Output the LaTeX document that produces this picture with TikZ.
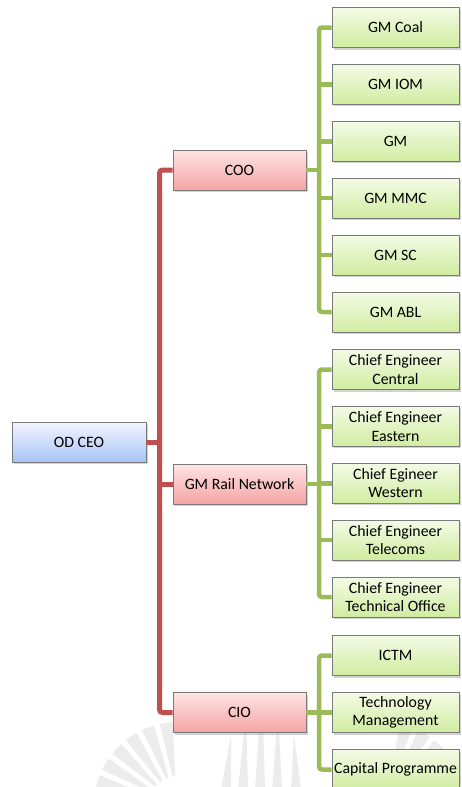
\documentclass[tikz,border=0pt]{standalone}
\usepackage{fontspec}
\setmainfont{Carlito}
\usetikzlibrary{shadows}

\definecolor{redline}{HTML}{C0504D}
\definecolor{greenline}{HTML}{9BBB59}
\definecolor{boxedge}{HTML}{7A7A7A}
\definecolor{markgray}{HTML}{ECECEC}

\tikzset{
  orgbox/.style={draw=boxedge, line width=0.8pt, inner sep=0pt, align=center,
    font=\fontsize{15.8}{18.5}\selectfont,
    drop shadow={shadow xshift=1.5pt, shadow yshift=-2pt, opacity=0.3, fill=black!60}},
  bluebox/.style={orgbox, minimum width=134pt, minimum height=40pt,
    top color=blue!4!white, bottom color={rgb,255:red,166;green,196;blue,245}},
  redbox/.style={orgbox, minimum width=133pt, minimum height=40pt,
    top color={rgb,255:red,253;green,228;blue,228}, bottom color={rgb,255:red,245;green,164;blue,164}},
  greenbox/.style={orgbox, minimum width=127pt, minimum height=40pt,
    top color={rgb,255:red,244;green,251;blue,230}, bottom color={rgb,255:red,208;green,236;blue,160}},
  redconn/.style={draw=redline, line width=5pt, rounded corners=3pt},
  greenconn/.style={draw=greenline, line width=4.5pt, rounded corners=3pt},
  markwedge/.style={fill=markgray, draw=none}
}

\begin{document}
\begin{tikzpicture}[x=1pt, y=-1pt]
\useasboundingbox (0,0) rectangle (461,787);
\clip (0,0) rectangle (461,787);

% faint emblem at the foot of the page
\begin{scope}[shift={(178,806)}, yscale=-1]
  \foreach \a in {98,111,...,172}
    \fill[markwedge] (\a-2.5:30) -- (\a-4.5:84) arc[start angle=\a-4.5, end angle=\a+4.5, radius=84]
      -- (\a+2.5:30) -- cycle;
\end{scope}
\begin{scope}[shift={(382,806)}, yscale=-1]
  \foreach \a in {8,21,...,82}
    \fill[markwedge] (\a-2.5:30) -- (\a-4.5:84) arc[start angle=\a-4.5, end angle=\a+4.5, radius=84]
      -- (\a+2.5:30) -- cycle;
\end{scope}
\foreach \tx/\ty/\bx in {231/735/226, 246/712/243, 262/688/260, 278/712/277, 294/735/296}
  \fill[markwedge] (\tx,\ty) -- (\bx+5,790) -- (\bx-5,790) -- cycle;

% top level
\node[bluebox] (ceo) at (79,442) {OD CEO};

% second level
\node[redbox] (coo)  at (239.5,170) {COO};
\node[redbox] (rail) at (239.5,484) {GM Rail Network};
\node[redbox] (cio)  at (239.5,712.5) {CIO};

% reports to COO
\node[greenbox] (coal) at (395.5,27.5)  {GM Coal};
\node[greenbox] (iom)  at (395.5,84.4)  {GM IOM};
\node[greenbox] (gm)   at (395.5,141.3) {GM};
\node[greenbox] (mmc)  at (395.5,198.2) {GM MMC};
\node[greenbox] (sc)   at (395.5,255.1) {GM SC};
\node[greenbox] (abl)  at (395.5,312)   {GM ABL};

% reports to GM Rail Network
\node[greenbox] (cecen) at (395.5,369.5) {Chief Engineer\\Central};
\node[greenbox] (ceeas) at (395.5,426.4) {Chief Engineer\\Eastern};
\node[greenbox] (cewes) at (395.5,483.3) {Chief Egineer\\Western};
\node[greenbox] (cetel) at (395.5,540.2) {Chief Engineer\\Telecoms};
\node[greenbox] (cetec) at (395.5,597.1) {Chief Engineer\\Technical Office};

% reports to CIO
\node[greenbox] (ictm) at (395.5,655.5) {ICTM};
\node[greenbox] (tech) at (395.5,712.5) {Technology\\Management};
\node[greenbox] (capp) at (395.5,769.5) {Capital Programme};

% red trunk from the CEO
\coordinate (trunk) at (159.5,442);
\draw[redconn] (coo.west) -| (trunk) |- (cio.west);
\draw[redconn] (ceo.east) -- (trunk);
\draw[redconn] (trunk |- rail.west) -- (rail.west);

% green buses
\coordinate (busA) at (319,170);
\draw[greenconn] (coo.east) -- (busA);
\draw[greenconn] (coal.west) -| (busA) |- (abl.west);
\foreach \n in {iom,gm,mmc,sc}
  \draw[greenconn] (busA |- \n.west) -- (\n.west);

\coordinate (busB) at (319,484);
\draw[greenconn] (rail.east) -- (busB);
\draw[greenconn] (cecen.west) -| (busB) |- (cetec.west);
\foreach \n in {ceeas,cewes,cetel}
  \draw[greenconn] (busB |- \n.west) -- (\n.west);

\coordinate (busC) at (319,712.5);
\draw[greenconn] (cio.east) -- (busC);
\draw[greenconn] (ictm.west) -| (busC) |- (capp.west);
\draw[greenconn] (busC |- tech.west) -- (tech.west);
\end{tikzpicture}
\end{document}
